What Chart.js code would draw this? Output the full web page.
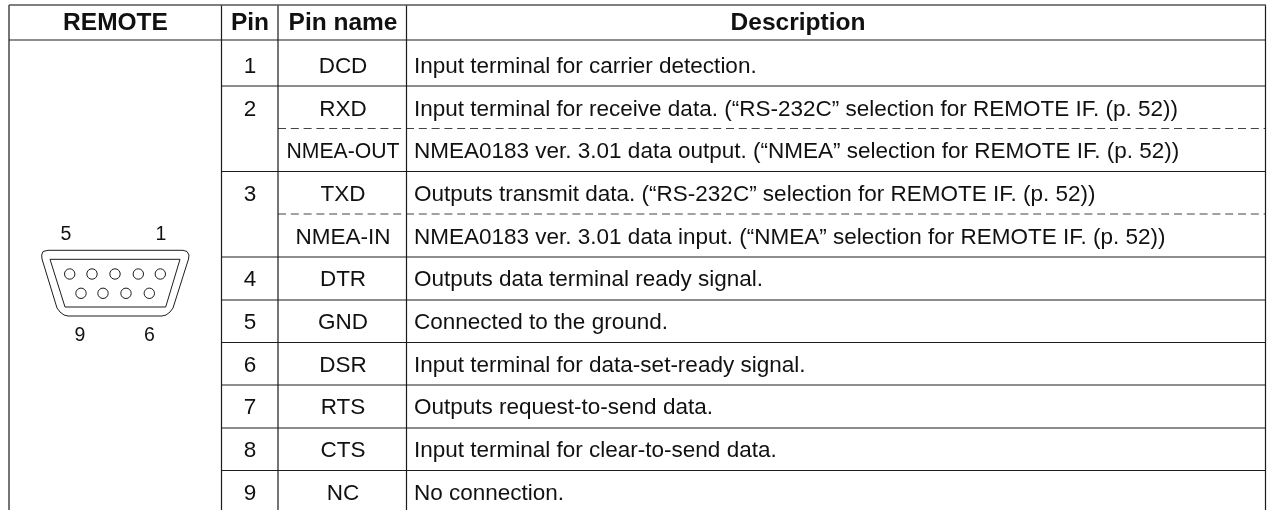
<!DOCTYPE html>
<html>
<head>
<meta charset="utf-8">
<style>
  html, body { margin: 0; padding: 0; background: #fff; }
  #chart { display: block; }
</style>
<script src="https://cdn.jsdelivr.net/npm/chart.js@4"></script>
</head>
<body>
<canvas id="chart" width="1267" height="510"></canvas>
<script>
// table text
const headers = ['REMOTE', 'Pin', 'Pin name', 'Description'];
const headerX = [115.5, 250, 343, 798];
const pinNumbers = ['1', '2', '', '3', '', '4', '5', '6', '7', '8', '9'];
const pinNames = ['DCD', 'RXD', 'NMEA-OUT', 'TXD', 'NMEA-IN', 'DTR', 'GND', 'DSR', 'RTS', 'CTS', 'NC'];
const descriptions = [
  'Input terminal for carrier detection.',
  'Input terminal for receive data. (“RS-232C” selection for REMOTE IF. (p. 52))',
  'NMEA0183 ver. 3.01 data output. (“NMEA” selection for REMOTE IF. (p. 52))',
  'Outputs transmit data. (“RS-232C” selection for REMOTE IF. (p. 52))',
  'NMEA0183 ver. 3.01 data input. (“NMEA” selection for REMOTE IF. (p. 52))',
  'Outputs data terminal ready signal.',
  'Connected to the ground.',
  'Input terminal for data-set-ready signal.',
  'Outputs request-to-send data.',
  'Input terminal for clear-to-send data.',
  'No connection.',
];
const rowBaselines = [73, 116, 158, 201, 244, 286, 329, 372, 414, 457, 500];

// table rules
const columnLines = [9, 221.5, 278, 406.5, 1265.5];
const rowLines = [86, 171.5, 257, 300, 342.5, 385, 428, 470.5];
const dashedLines = [128.5, 214];

// DB-9 connector
const pinLabels = ['5', '1', '9', '6'];
const pinLabelX = [66, 161, 80, 149.5];
const pinLabelY = [240, 240, 341, 341];
const holesX = [69.7, 92, 115, 138.3, 160.3, 81, 103, 126, 149.3];
const holesY = [274, 274, 274, 274, 274, 293.3, 293.3, 293.3, 293.3];
const outerX = [48, 183, 187, 189, 188.5, 173, 170, 166, 162, 68, 64, 60, 57, 42, 41.7, 43, 48];
const outerY = [250.3, 250.3, 251.5, 255, 259, 308, 312, 315, 316, 316, 315, 312, 308, 259, 255, 251.5, 250.3];
const innerX = [50, 180, 165.7, 65, 50];
const innerY = [259.3, 259.3, 307, 307, 259.3];

const INK = '#1c1c1c';
const FONT = '"Liberation Sans", Arial, sans-serif';

const zip = (xs, ys) => xs.map((x, i) => ({ x, y: ys[i] }));
const rule = (data, extra = {}) => ({
  data, showLine: true, borderColor: INK, borderWidth: 1.2, pointRadius: 0, ...extra,
});

const datasets = [
  rule([{ x: 9, y: 5 }, { x: 1266, y: 5 }], { borderColor: '#555', borderWidth: 1.6 }),
  rule([{ x: 9, y: 40 }, { x: 1266, y: 40 }]),
  ...columnLines.map((x, i) => rule([{ x, y: 5 }, { x, y: 510 }], i === 0 ? { borderColor: '#666', borderWidth: 1.8 } : {})),
  ...rowLines.map(y => rule([{ x: 221.5, y }, { x: 1266, y }])),
  ...dashedLines.map(y => rule([{ x: 278, y }, { x: 1266, y }], { borderColor: '#444', borderWidth: 1.2, borderDash: [8, 4.8] })),
  rule(zip(outerX, outerY), { borderWidth: 1 }),
  rule(zip(innerX, innerY), { borderWidth: 1 }),
  { data: zip(holesX, holesY), showLine: false, pointRadius: 5.2, pointBackgroundColor: '#fff', pointBorderColor: INK, pointBorderWidth: 1 },
];

const tableText = {
  id: 'tableText',
  afterDatasetsDraw(chart) {
    const { ctx, scales: { x, y } } = chart;
    const put = (str, px, py, align, maxWidth) => {
      ctx.textAlign = align;
      ctx.fillText(str, x.getPixelForValue(px), y.getPixelForValue(py), maxWidth);
    };
    ctx.save();
    ctx.fillStyle = '#111';
    ctx.textBaseline = 'alphabetic';
    ctx.font = 'bold 24.5px ' + FONT;
    headers.forEach((h, i) => put(h, headerX[i], 30, 'center'));
    ctx.font = '22.5px ' + FONT;
    rowBaselines.forEach((py, i) => {
      put(pinNumbers[i], 250, py, 'center');
      put(pinNames[i], 343, py, 'center', 113); // NMEA-OUT is squeezed to fit its cell
      put(descriptions[i], 414, py, 'left');
    });
    ctx.font = '19.5px ' + FONT;
    pinLabels.forEach((l, i) => put(l, pinLabelX[i], pinLabelY[i], 'center'));
    ctx.restore();
  },
};

new Chart(document.getElementById('chart'), {
  type: 'scatter',
  data: { datasets },
  plugins: [tableText],
  options: {
    responsive: false,
    animation: false,
    layout: { padding: 0, autoPadding: false },
    plugins: { legend: { display: false }, tooltip: { enabled: false } },
    scales: {
      x: { type: 'linear', display: false, min: 0, max: 1267 },
      y: { type: 'linear', display: false, min: 0, max: 510, reverse: true },
    },
  },
});
</script>
</body>
</html>
